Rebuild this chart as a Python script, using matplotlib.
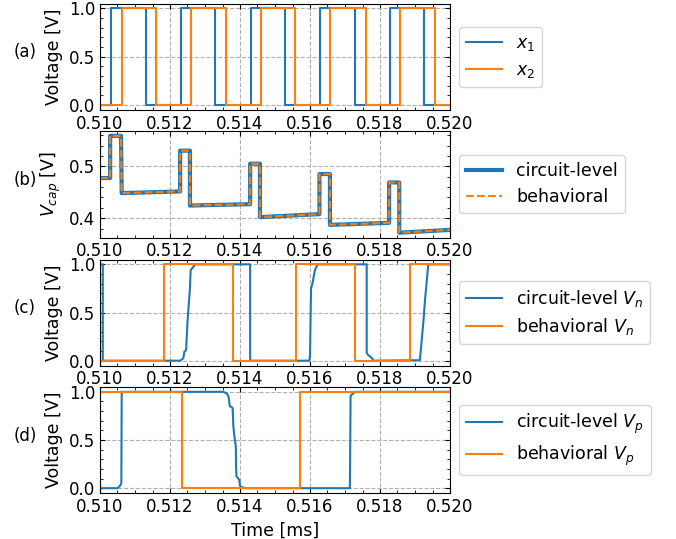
import matplotlib
matplotlib.use("Agg")
import matplotlib.pyplot as plt
from matplotlib.ticker import MultipleLocator, AutoMinorLocator, FormatStrFormatter

# ---------------- data ----------------
# (a) input pulse edges (steps-post)
a_x1_t = [0.5100, 0.51031, 0.51131, 0.51230, 0.51329, 0.51430, 0.51529, 0.51629, 0.51729, 0.51829, 0.51927, 0.5200]
a_x1_v = [0, 1, 0, 1, 0, 1, 0, 1, 0, 1, 0, 0]
a_x2_t = [0.5100, 0.51062, 0.51160, 0.51260, 0.51359, 0.51459, 0.51557, 0.51657, 0.51759, 0.51857, 0.51957, 0.5200]
a_x2_v = [0, 1, 0, 1, 0, 1, 0, 1, 0, 1, 0, 0]

# (b) capacitor voltage
b_circ_t = [0.5100, 0.51029, 0.51029, 0.51060, 0.51062, 0.51229, 0.51229, 0.51257, 0.51257, 0.51429,
            0.51429, 0.51457, 0.51457, 0.51627, 0.51627, 0.51657, 0.51657, 0.51826, 0.51826, 0.51855,
            0.51855, 0.5200]
b_circ_v = [0.4775, 0.4775, 0.559, 0.559, 0.4484, 0.4516, 0.5304, 0.5304, 0.4244, 0.4270,
            0.5052, 0.5052, 0.4020, 0.4078, 0.4852, 0.4852, 0.3870, 0.3910, 0.4690, 0.4690,
            0.3720, 0.3773]
b_beh_t = [0.5100, 0.51029, 0.51029, 0.51060, 0.51062, 0.51229, 0.51229, 0.51257, 0.51257, 0.51429,
           0.51429, 0.51457, 0.51457, 0.51627, 0.51627, 0.51657, 0.51657, 0.51826, 0.51826, 0.51855,
           0.51855, 0.5200]
b_beh_v = [0.4775, 0.4775, 0.559, 0.559, 0.4484, 0.4516, 0.5304, 0.5304, 0.4244, 0.4270,
           0.5052, 0.5052, 0.4020, 0.4078, 0.4852, 0.4852, 0.3870, 0.3910, 0.4690, 0.4690,
           0.3720, 0.3773]

# (c) V_n
c_circ_t = [0.5100, 0.51008, 0.51008, 0.51229, 0.51238, 0.51241, 0.51246, 0.51250, 0.51252, 0.51257,
            0.51259, 0.51267, 0.51271, 0.51429, 0.51429, 0.51598, 0.51600, 0.51603, 0.51607, 0.51614,
            0.51619, 0.51621, 0.51762, 0.51762, 0.51766, 0.51779, 0.51779, 0.51914, 0.51924, 0.51929,
            0.51938, 0.5200]
c_circ_v = [1, 1, 0, 0, 0.024, 0.093, 0.11, 0.405, 0.508, 0.75,
            0.94, 0.975, 1, 1, 0, 0, 0.05, 0.75, 0.80, 0.94,
            0.98, 1, 1, 0.08, 0.06, 0.02, 0, 0.005, 0.405, 0.647,
            1, 1]
c_beh_t = [0.5100, 0.51183, 0.51381, 0.51560, 0.51729, 0.51886, 0.5200]
c_beh_v = [0, 1, 0, 1, 0, 1, 1]

# (d) V_p
d_circ_t = [0.5100, 0.51050, 0.51057, 0.51061, 0.51062, 0.51352, 0.51362, 0.51367, 0.51371, 0.51379,
            0.51381, 0.51384, 0.51388, 0.51389, 0.51390, 0.51398, 0.51400, 0.51405, 0.51419, 0.51714,
            0.51716, 0.51724, 0.51729, 0.5200]
d_circ_v = [0, 0, 0.024, 0.052, 1, 1, 0.983, 0.955, 0.851, 0.833,
            0.642, 0.538, 0.434, 0.191, 0.122, 0.087, 0.024, 0.010, 0, 0,
            0.96, 0.985, 1, 1]
d_beh_t = [0.5100, 0.51235, 0.51570, 0.5200]
d_beh_v = [1, 0, 1, 1]

xticks = [0.510, 0.512, 0.514, 0.516, 0.518, 0.520]
panel_labels = ["(a)", "(b)", "(c)", "(d)"]

# ---------------- style ----------------
plt.rcParams.update({
    "font.size": 12,
    "xtick.direction": "in",
    "ytick.direction": "in",
    "xtick.top": True,
    "ytick.right": True,
})

C0, C1 = "#1f77b4", "#ff7f0e"

fig = plt.figure(figsize=(6.76, 5.39), dpi=100)
W, H = 676, 539
left, right = 100, 450
tops = [3.5, 131, 259.5, 387]
bots = [110, 237.5, 365.5, 493]
axes = []
for t, b in zip(tops, bots):
    axes.append(fig.add_axes([left / W, 1 - b / H, (right - left) / W, (b - t) / H]))

ax_a, ax_b, ax_c, ax_d = axes

ax_a.plot(a_x1_t, a_x1_v, drawstyle="steps-post", color=C0, lw=1.5, label="$x_1$")
ax_a.plot(a_x2_t, a_x2_v, drawstyle="steps-post", color=C1, lw=1.5, label="$x_2$")

ax_b.plot(b_circ_t, b_circ_v, color=C0, lw=3, label="circuit-level")
ax_b.plot(b_beh_t, b_beh_v, color=C1, lw=1.5, ls="--", label="behavioral")

ax_c.plot(c_circ_t, c_circ_v, color=C0, lw=1.5, label="circuit-level $V_n$")
ax_c.plot(c_beh_t, c_beh_v, drawstyle="steps-post", color=C1, lw=1.5, label="behavioral $V_n$")

ax_d.plot(d_circ_t, d_circ_v, color=C0, lw=1.5, label="circuit-level $V_p$")
ax_d.plot(d_beh_t, d_beh_v, drawstyle="steps-post", color=C1, lw=1.5, label="behavioral $V_p$")

for i, ax in enumerate(axes):
    ax.set_xlim(0.510, 0.520)
    ax.set_xticks(xticks)
    ax.xaxis.set_major_formatter(FormatStrFormatter("%.3f"))
    ax.xaxis.set_minor_locator(AutoMinorLocator())
    ax.yaxis.set_minor_locator(AutoMinorLocator())
    ax.grid(True, which="major", ls="--", color="#b0b0b0", lw=0.8)
    ax.legend(loc="center left", bbox_to_anchor=(1.0, 0.5), fontsize=12.5,
              labelspacing=0.45, handlelength=2.1)
    ax.text(-0.214, 0.54, panel_labels[i], transform=ax.transAxes, ha="center", va="center", fontsize=12)
    if i != 1:
        ax.set_ylim(-0.05, 1.05)
        ax.yaxis.set_major_locator(MultipleLocator(0.5))
        ax.yaxis.set_major_formatter(FormatStrFormatter("%.1f"))
        ax.set_ylabel("Voltage [V]", fontsize=12.5)
    else:
        ax.yaxis.set_major_locator(MultipleLocator(0.1))
        ax.yaxis.set_major_formatter(FormatStrFormatter("%.1f"))
        ax.set_ylabel("$V_{cap}$ [V]", fontsize=12.5)

ax_d.set_xlabel("Time [ms]", fontsize=12.5)

fig.savefig("out.png", dpi=100)
